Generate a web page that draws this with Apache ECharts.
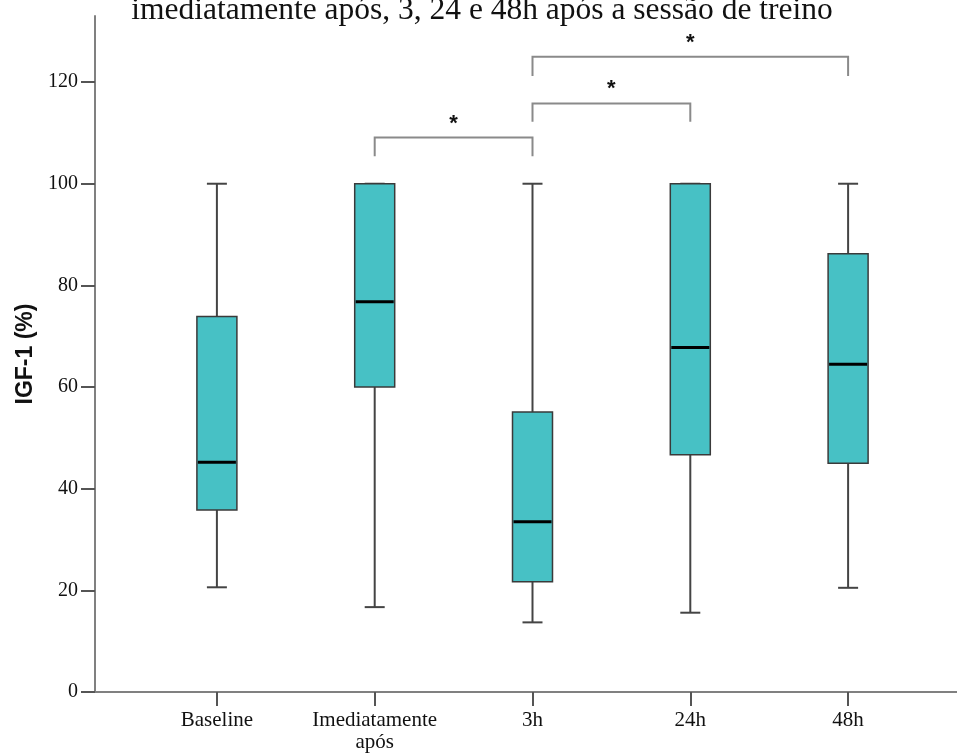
<!DOCTYPE html>
<html>
<head>
<meta charset="utf-8">
<script src="https://cdn.jsdelivr.net/npm/echarts@6/dist/echarts.min.js"></script>
<style>
html,body{margin:0;padding:0;background:#fff;}
#main{width:957px;height:754px;}
</style>
</head>
<body>
<div id="main"></div>
<script>
// ---- data ----
var categories = ['Baseline', 'Imediatamente\napós', '3h', '24h', '48h'];
var whiskerLow = [20.6, 16.7, 13.7, 15.6, 20.5];
var q1Values   = [35.8, 60.0, 21.7, 46.7, 45.0];
var medians    = [45.2, 76.8, 33.5, 67.8, 64.5];
var q3Values   = [73.9, 100, 55.1, 100, 86.2];
var whiskerHigh= [100, 100, 100, 100, 100];
var yTicks = [0, 20, 40, 60, 80, 100, 120];
// significance brackets: [from category index, to category index, bracket top, bracket leg bottom]
var bracketFrom = [1, 2, 2];
var bracketTo   = [2, 3, 4];
var bracketTop  = [109.1, 115.8, 125.0];
var bracketLeg  = [105.4, 112.2, 121.2];
var bracketMark = ['*', '*', '*'];
var titleText = 'imediatamente após, 3, 24 e 48h após a sessão de treino';
var yName = 'IGF-1 (%)';

var boxData = categories.map(function (c, i) {
  return [i, whiskerLow[i], q1Values[i], medians[i], q3Values[i], whiskerHigh[i]];
});
var bracketData = bracketFrom.map(function (f, i) {
  return [f, bracketTo[i], bracketTop[i], bracketLeg[i], bracketMark[i]];
});

var Y_MAX = 133;
var chart = echarts.init(document.getElementById('main'));
var serif = 'Liberation Serif, Times New Roman, serif';

chart.setOption({
  animation: false,
  backgroundColor: '#fff',
  title: {
    text: titleText, left: 477, textAlign: 'center', top: -10,
    textStyle: {fontFamily: serif, fontSize: 31.5, fontWeight: 'normal', color: '#111'}
  },
  grid: [
    {left: 95, right: 0, top: 16, bottom: 62, outerBoundsMode: 'none', containLabel: false},
    {left: 138, right: 30, top: 16, bottom: 62, outerBoundsMode: 'none', containLabel: false}
  ],
  xAxis: [
    {
      gridIndex: 0, type: 'value', min: 0, max: 1,
      axisLine: {show: true, lineStyle: {color: '#808080', width: 2}},
      axisTick: {show: false}, axisLabel: {show: false}, splitLine: {show: false}
    },
    {
      gridIndex: 1, type: 'category', data: categories,
      axisLine: {show: false},
      axisTick: {show: true, alignWithLabel: true, interval: 0, length: 14, lineStyle: {color: '#555', width: 2}},
      axisLabel: {fontFamily: serif, fontSize: 21, color: '#111', margin: 17, lineHeight: 22, interval: 0, hideOverlap: false},
      splitLine: {show: false}
    }
  ],
  yAxis: [
    {
      gridIndex: 0, type: 'value', min: 0, max: Y_MAX,
      name: yName, nameLocation: 'middle', nameGap: 58, nameRotate: 90,
      nameTextStyle: {fontFamily: 'Liberation Sans, Arial, sans-serif', fontWeight: 'bold', fontSize: 23, color: '#111'},
      axisLine: {show: true, lineStyle: {color: '#808080', width: 2}},
      axisTick: {show: true, length: 14, customValues: yTicks, lineStyle: {color: '#555', width: 2}},
      axisLabel: {fontFamily: serif, fontSize: 20, color: '#111', margin: 17, customValues: yTicks},
      splitLine: {show: false}
    },
    {
      gridIndex: 1, type: 'value', min: 0, max: Y_MAX, show: false
    }
  ],
  series: [
    {
      type: 'custom', xAxisIndex: 1, yAxisIndex: 1,
      data: boxData,
      renderItem: function (params, api) {
        var i = api.value(0);
        var lo = api.coord([i, api.value(1)]);
        var q1 = api.coord([i, api.value(2)]);
        var md = api.coord([i, api.value(3)]);
        var q3 = api.coord([i, api.value(4)]);
        var hi = api.coord([i, api.value(5)]);
        var x = lo[0], bw = 40, cw = 20;
        var wStyle = {stroke: '#444', lineWidth: 2};
        return {
          type: 'group',
          children: [
            {type: 'line', shape: {x1: x, y1: lo[1], x2: x, y2: q1[1]}, style: wStyle},
            {type: 'line', shape: {x1: x, y1: q3[1], x2: x, y2: hi[1]}, style: wStyle},
            {type: 'line', shape: {x1: x - cw / 2, y1: lo[1], x2: x + cw / 2, y2: lo[1]}, style: wStyle},
            {type: 'line', shape: {x1: x - cw / 2, y1: hi[1], x2: x + cw / 2, y2: hi[1]}, style: wStyle},
            {type: 'rect', shape: {x: x - bw / 2, y: q3[1], width: bw, height: q1[1] - q3[1]},
              style: {fill: '#47C1C5', stroke: '#3a3a3a', lineWidth: 1.5}},
            {type: 'line', shape: {x1: x - bw / 2 + 1, y1: md[1], x2: x + bw / 2 - 1, y2: md[1]},
              style: {stroke: '#000', lineWidth: 3}}
          ]
        };
      }
    },
    {
      type: 'custom', xAxisIndex: 1, yAxisIndex: 1,
      data: bracketData,
      renderItem: function (params, api) {
        var a = api.coord([api.value(0), api.value(2)]);
        var b = api.coord([api.value(1), api.value(2)]);
        var legY = api.coord([api.value(0), api.value(3)])[1];
        var st = {stroke: '#8a8a8a', lineWidth: 2, fill: null};
        return {
          type: 'group',
          children: [
            {type: 'polyline', shape: {points: [[a[0], legY], [a[0], a[1]], [b[0], b[1]], [b[0], legY]]}, style: st},
            {type: 'text', x: (a[0] + b[0]) / 2, y: a[1] - 3,
              style: {text: bracketMark[params.dataIndex], fontFamily: 'Liberation Sans, Arial, sans-serif', fontWeight: 'bold',
                fontSize: 22, fill: '#111', align: 'center', verticalAlign: 'bottom'}}
          ]
        };
      }
    }
  ]
});
</script>
</body>
</html>
